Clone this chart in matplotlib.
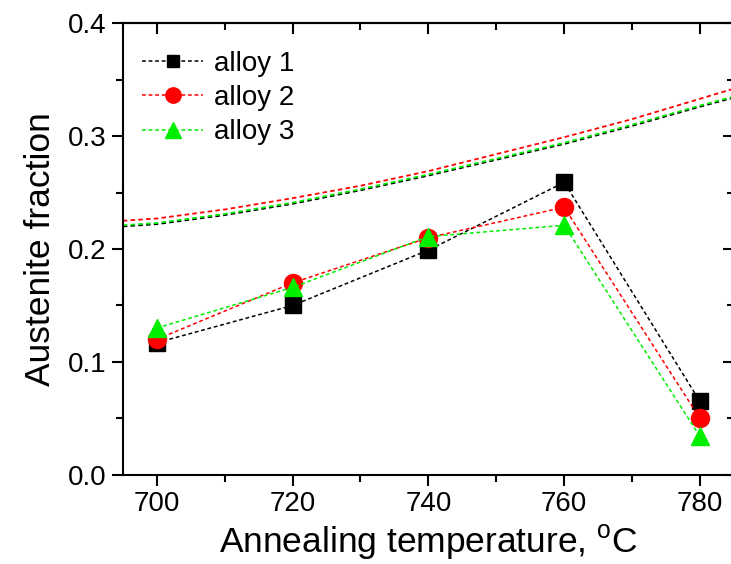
import matplotlib.pyplot as plt
from matplotlib.ticker import MultipleLocator

plt.rcParams['font.family'] = ['Liberation Sans', 'DejaVu Sans']
plt.rcParams['mathtext.fontset'] = 'custom'
plt.rcParams['mathtext.rm'] = 'Liberation Sans'

# measured austenite fraction
temps = [700, 720, 740, 760, 780]
alloy1 = [0.117, 0.150, 0.199, 0.259, 0.065]
alloy2 = [0.120, 0.170, 0.210, 0.237, 0.050]
alloy3 = [0.130, 0.166, 0.211, 0.221, 0.034]

# upper (equilibrium) curves
curve_t = [695, 700, 710, 720, 730, 740, 750, 760, 770, 780, 785]
curve1 = [0.220, 0.222, 0.230, 0.240, 0.252, 0.265, 0.279, 0.293, 0.309, 0.326, 0.334]
curve2 = [0.225, 0.227, 0.235, 0.245, 0.256, 0.269, 0.284, 0.299, 0.315, 0.333, 0.342]
curve3 = [0.221, 0.223, 0.231, 0.241, 0.253, 0.266, 0.280, 0.294, 0.310, 0.327, 0.335]

labels = ['alloy 1', 'alloy 2', 'alloy 3']
colors = ['black', 'red', '#00ee00']
markers = ['s', 'o', '^']
sizes = [11, 13, 13]

fig = plt.figure(figsize=(7.31, 5.64), dpi=100)
ax = fig.add_axes([0.168, 0.158, 0.836, 0.801])

dash = (2.5, 1.8)
for c, col in zip([curve1, curve2, curve3], colors):
    ax.plot(curve_t, c, color=col, lw=1.3, dashes=dash)

for y, lab, col, m, s in zip([alloy1, alloy2, alloy3], labels, colors, markers, sizes):
    ax.plot(temps, y, color=col, lw=1.1, dashes=dash, marker=m, ms=s,
            mec=col, label=lab)

ax.set_xlim(695, 785)
ax.set_ylim(0, 0.4)
ax.xaxis.set_major_locator(MultipleLocator(20))
ax.xaxis.set_minor_locator(MultipleLocator(10))
ax.yaxis.set_major_locator(MultipleLocator(0.1))
ax.yaxis.set_minor_locator(MultipleLocator(0.05))
ax.yaxis.set_major_formatter(plt.FuncFormatter(lambda v, p: f'{v:.1f}'))

ax.tick_params(which='both', direction='out', top=False, right=False, width=1.5)
ax.tick_params(which='major', length=8, labelsize=20)
ax.tick_params(which='minor', length=5)
# mirrored inward ticks on top/right
sec_x = ax.secondary_xaxis('top')
sec_x.xaxis.set_major_locator(MultipleLocator(20))
sec_x.xaxis.set_minor_locator(MultipleLocator(10))
sec_x.tick_params(which='both', direction='in', labeltop=False, width=1.5)
sec_x.tick_params(which='major', length=8)
sec_x.tick_params(which='minor', length=5)
sec_y = ax.secondary_yaxis('right')
sec_y.yaxis.set_major_locator(MultipleLocator(0.1))
sec_y.yaxis.set_minor_locator(MultipleLocator(0.05))
sec_y.tick_params(which='both', direction='in', labelright=False, width=1.5)
sec_y.tick_params(which='major', length=8)
sec_y.tick_params(which='minor', length=5)

for sp in ax.spines.values():
    sp.set_linewidth(1.5)
sec_x.spines['top'].set_linewidth(1.5)
sec_y.spines['right'].set_linewidth(1.5)

ax.set_xlabel('Annealing temperature, $^{\\mathregular{o}}$C', fontsize=25.5, labelpad=4)
ax.set_ylabel('Austenite fraction', fontsize=25.5, labelpad=8)

ax.legend(loc='upper left', bbox_to_anchor=(0.0, 0.982), frameon=False,
          fontsize=20, handlelength=2.2, handletextpad=0.4, labelspacing=0.3,
          borderaxespad=0.3, borderpad=0.4, markerscale=0.85)

fig.savefig('out.png', dpi=100)
